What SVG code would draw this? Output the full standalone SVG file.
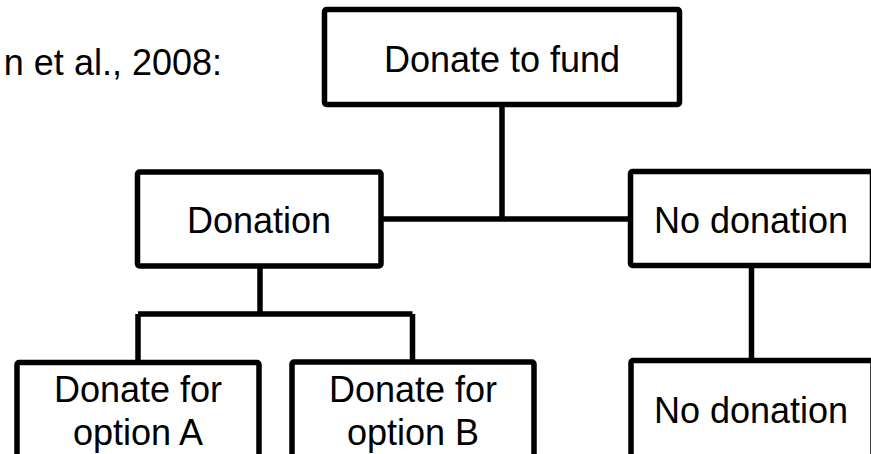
<svg xmlns="http://www.w3.org/2000/svg" width="871" height="454" viewBox="0 0 871 454">
<style>
.box{fill:#fff;stroke:#000;stroke-width:5.5;stroke-linejoin:round}
.lbl{font-family:"Liberation Sans",Arial,sans-serif;font-size:36px;fill:#000;text-anchor:middle}
.con{fill:none;stroke:#000;stroke-width:5.5}
</style>
<rect width="871" height="454" fill="#fff"/>
<text x="222" y="75" text-anchor="end" style="font-family:'Liberation Sans',Arial,sans-serif;font-size:36px;fill:#000">n et al., 2008:</text>
<g id="connectors">
<path class="con" d="M502 104.5V219M381 219H630.5M260 266V314M138 314H412.5M138 314V362.5M412.5 314V362M751.5 265.5V360.5"/>
</g>
<g id="fund"><rect class="box" x="324.5" y="9.5" width="355" height="95" rx="2"/><text class="lbl" x="502" y="72">Donate to fund</text></g>
<g id="donation"><rect class="box" x="137.5" y="172" width="243.5" height="94" rx="2"/><text class="lbl" x="259" y="233">Donation</text></g>
<g id="nodonation1"><rect class="box" x="630.5" y="171.5" width="242" height="94" rx="2"/><text class="lbl" x="751" y="233">No donation</text></g>
<g id="optionA"><rect class="box" x="17" y="362.5" width="242" height="120" rx="2"/><text class="lbl" x="138" y="402">Donate for</text><text class="lbl" x="138" y="445">option A</text></g>
<g id="optionB"><rect class="box" x="292" y="362" width="242" height="120" rx="2"/><text class="lbl" x="413" y="402">Donate for</text><text class="lbl" x="413" y="445">option B</text></g>
<g id="nodonation2"><rect class="box" x="631" y="360.5" width="242" height="120" rx="2"/><text class="lbl" x="751" y="423">No donation</text></g>
</svg>
